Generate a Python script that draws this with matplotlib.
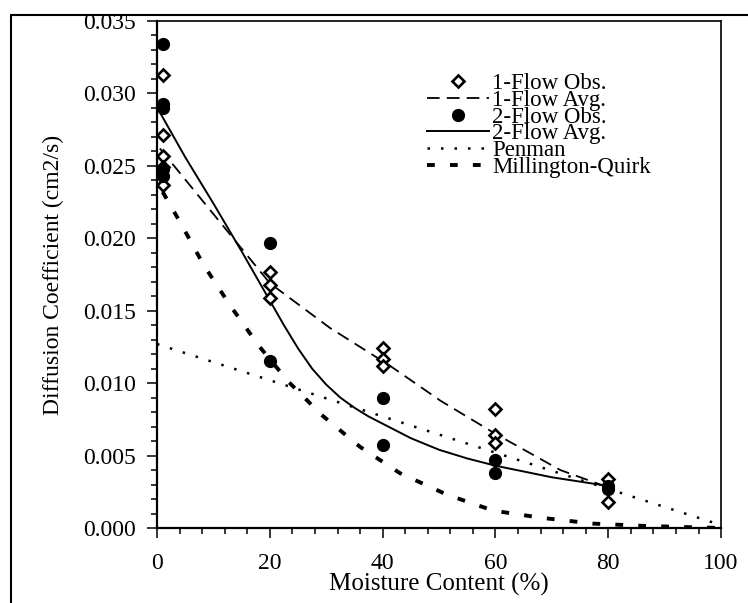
import matplotlib
matplotlib.use("Agg")
import matplotlib.pyplot as plt
from matplotlib.patches import Rectangle
from matplotlib.ticker import MultipleLocator, FormatStrFormatter

plt.rcParams['font.family'] = ['Liberation Serif', 'DejaVu Serif']

# observations, one-flow cell (open diamonds)
obs1_x = [1, 1, 1, 1, 1, 20, 20, 20, 40, 40, 40, 60, 60, 60, 80, 80]
obs1_y = [0.0313, 0.0271, 0.0257, 0.0249, 0.0237,
          0.0177, 0.0168, 0.0159,
          0.0124, 0.0117, 0.0112,
          0.0082, 0.0064, 0.0059,
          0.0034, 0.0018]

# observations, two-flow cell (filled circles)
obs2_x = [1, 1, 1, 1, 1, 20, 20, 40, 40, 60, 60, 80, 80]
obs2_y = [0.0334, 0.0293, 0.0290, 0.0248, 0.0243,
          0.0197, 0.0115,
          0.0090, 0.0057,
          0.0047, 0.0038,
          0.0029, 0.0027]

# one-flow average curve
avg1_x = [0.5, 11.2, 20, 30.7, 41.3, 50.2, 60, 71.5, 80]
avg1_y = [0.0262, 0.0211, 0.0169, 0.0138, 0.0112, 0.0088, 0.0065, 0.0040, 0.0028]

# two-flow average curve
avg2_x = [0.5, 5, 10, 15, 20, 22.5, 25, 27.5, 30, 32.5, 35, 37.5, 40, 45, 50, 55, 60, 70, 80]
avg2_y = [0.0287, 0.0256, 0.0224, 0.0191, 0.0157, 0.0140, 0.0124, 0.0110, 0.0099,
          0.0090, 0.0083, 0.0077, 0.0072, 0.0062, 0.0054, 0.0048, 0.0043, 0.0035, 0.0029]

# Penman model
pen_x = [0, 100]
pen_y = [0.0127, 0.0002]

# Millington-Quirk model
mq_x = [1, 4.4, 8.2, 12.9, 18, 23.3, 29.2, 36, 43, 51.4, 59.6, 68.2, 77.4, 86, 95, 100]
mq_y = [0.0232, 0.0209, 0.0182, 0.0154, 0.0126, 0.0101, 0.0078, 0.0056, 0.0038,
        0.0023, 0.0012, 0.0007, 0.0003, 0.00015, 0.00005, 0.0]

fig = plt.figure(figsize=(7.48, 6.03), dpi=100)
ax = fig.add_axes([0.2099, 0.1244, 0.7541, 0.8408])

# outer frame line (left and top edges)
fig.add_artist(Rectangle((11 / 748., -0.1), 1.2, 1.1 - 15 / 603., transform=fig.transFigure,
                         fill=False, lw=1.5, ec='black'))

ax.plot(obs1_x, obs1_y, ls='none', marker='D', ms=5.8, mfc='white', mec='black', mew=1.9,
        zorder=5, label='1-Flow Obs.')
ax.plot(avg1_x, avg1_y, color='black', lw=1.3, ls=(0, (7, 4)), label='1-Flow Avg.')
ax.plot(obs2_x, obs2_y, ls='none', marker='o', ms=8.5, mfc='black', mec='black',
        zorder=5, label='2-Flow Obs.')
ax.plot(avg2_x, avg2_y, color='black', lw=1.4, label='2-Flow Avg.')
ax.plot(pen_x, pen_y, color='black', lw=1.8, ls=(0, (1, 4.4)), label='Penman')
ax.plot(mq_x, mq_y, color='black', lw=2.8, ls=(0, (2, 3.9)), label='Millington-Quirk')

ax.set_xlim(0, 100)
ax.set_ylim(0, 0.035)
ax.xaxis.set_major_locator(MultipleLocator(20))
ax.xaxis.set_minor_locator(MultipleLocator(4))
ax.yaxis.set_major_locator(MultipleLocator(0.005))
ax.yaxis.set_minor_locator(MultipleLocator(0.001))
ax.yaxis.set_major_formatter(FormatStrFormatter('%.3f'))

ax.tick_params(which='both', direction='out', top=False, right=False, width=1.1)
ax.tick_params(which='major', length=7, labelsize=17)
ax.tick_params(axis='x', which='major', pad=11)
ax.tick_params(axis='y', which='major', pad=8)
ax.tick_params(which='minor', length=4)

for side in ['left', 'bottom']:
    ax.spines[side].set_linewidth(1.6)
for side in ['top', 'right']:
    ax.spines[side].set_linewidth(1.2)

ax.set_xlabel('Moisture Content (%)', fontsize=18, labelpad=-1)
ax.set_ylabel('Diffusion Coefficient (cm2/s)', fontsize=17, labelpad=14)

ax.legend(loc='upper left', bbox_to_anchor=(0.478, 0.898), frameon=False, fontsize=16.5,
          numpoints=1, handlelength=2.7, handletextpad=0.15, labelspacing=-0.18,
          borderpad=0, borderaxespad=0)

fig.savefig('out.png', dpi=100)
